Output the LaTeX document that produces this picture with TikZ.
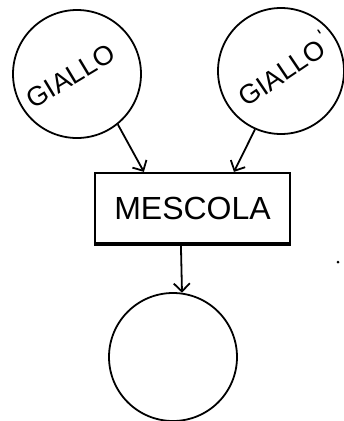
\documentclass[tikz,border=0pt]{standalone}
\usepackage{fontspec}
\setmainfont{Liberation Sans}
\usetikzlibrary{arrows.meta}
\begin{document}
\begin{tikzpicture}[x=1pt,y=-1pt,
  ring/.style={circle,draw,line width=1.8pt,inner sep=0pt,minimum size=128pt},
  procbox/.style={rectangle,draw,line width=2.2pt,inner sep=0pt,minimum width=195pt,minimum height=70pt,
    font=\fontsize{32}{32}\selectfont},
  lbl/.style={font=\fontsize{27}{27}\selectfont,inner sep=0pt},
  arr/.style={line width=1.8pt,-{Straight Barb[length=8pt,width=16pt,line width=1.8pt]}}]
\useasboundingbox (0,0) rectangle (344,421);
\node[ring] (lc) at (77,74) {};
\node[ring,minimum size=126pt] (rc) at (281,71) {};
\node[lbl,rotate=31] (lt) at (71,76) {GIALLO};
\node[lbl,rotate=34] (rt) at (282,73) {GIALLO};
\node[procbox] (box) at (192.5,208) {MESCOLA};
\node[ring] (bc) at (173,357) {};
\draw[line width=3.5pt] (box.south west) -- (box.south east);
\coordinate (in1) at ([xshift=50pt]box.north west);
\coordinate (in2) at ([xshift=140pt]box.north west);
\coordinate (out1) at ([xshift=87pt]box.south west);
\coordinate (tgt) at ([xshift=9pt,yshift=-0.6pt]bc.north);
\draw[arr] (lc.-51) -- (in1);
\draw[arr] (rc.-114) -- (in2);
\draw[arr] (out1) -- (tgt);
\draw[line width=1.4pt,line cap=round] (318,30) -- (320,33);
\fill (338,262) circle (1.5pt);
\end{tikzpicture}
\end{document}
